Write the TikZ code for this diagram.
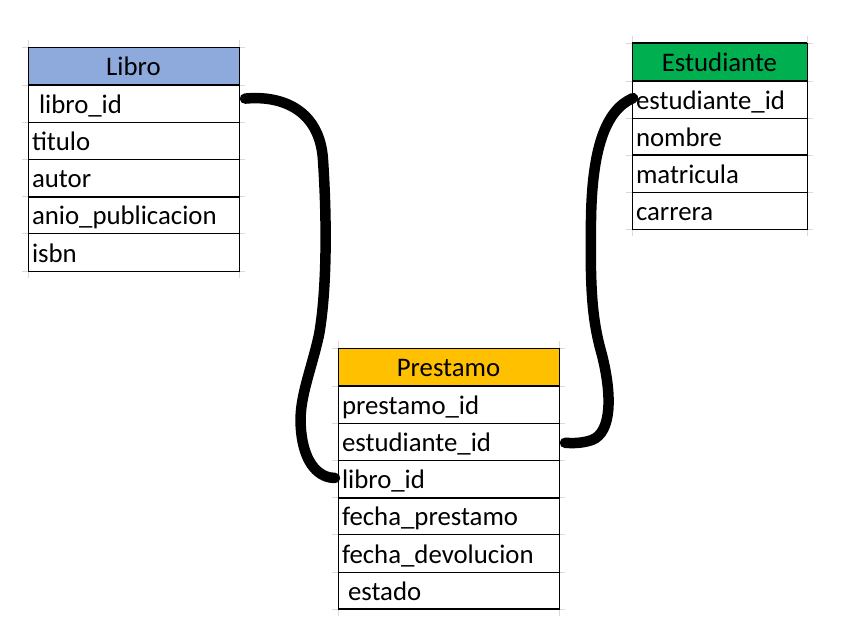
\documentclass[tikz,border=0pt]{standalone}
\usepackage{fontspec}
\setmainfont{Carlito}
\usetikzlibrary{calc}
\definecolor{hblue}{HTML}{8EA9DB}
\definecolor{hgreen}{HTML}{00B050}
\definecolor{horange}{HTML}{FFC000}
\begin{document}
\begin{tikzpicture}[x=1pt,y=-1pt,
  cell/.style={draw=black, line width=1pt, anchor=north west, outer sep=0pt,
    minimum height=37.2pt, inner xsep=4pt, inner ysep=0pt,
    text height=22pt, text depth=2.5pt, align=left,
    font=\fontsize{26.8}{30}\selectfont},
  head/.style={cell, align=center, minimum height=38pt},
  lw/.style={text width=203pt},
  ew/.style={text width=167pt},
  pw/.style={text width=213pt},
  thick line/.style={line width=2pt, black},
  conn/.style={line width=10.5pt, line cap=round, black},
  gridstub/.style={draw=gray!30, line width=1pt}]
\useasboundingbox (0,0) rectangle (841,635);
\fill[white] (0,0) rectangle (841,635);

% faint spreadsheet grid stubs
\foreach \yy in {47,85,122.2,159.4,196.6,233.8,271}
  {\draw[gridstub] (22,\yy) -- (245,\yy);}
\draw[gridstub] (28,40) -- (28,278);
\draw[gridstub] (239,40) -- (239,278);
\foreach \yy in {43,81,118.2,155.4,192.6,229.8}
  {\draw[gridstub] (626,\yy) -- (813,\yy);}
\draw[gridstub] (632,36) -- (632,236);
\draw[gridstub] (807,36) -- (807,236);
\foreach \yy in {348,386,423.2,460.4,497.6,534.8,572,609.2}
  {\draw[gridstub] (332,\yy) -- (565,\yy);}
\draw[gridstub] (338,341) -- (338,616);
\draw[gridstub] (559,341) -- (559,616);

% Libro
\node[head, lw, fill=hblue] (lib0) at (28,47) {Libro};
\node[cell, lw] (lib1) at (lib0.south west) {\hspace*{7pt}libro\_id};
\node[cell, lw] (lib2) at (lib1.south west) {titulo};
\node[cell, lw] (lib3) at (lib2.south west) {autor};
\node[cell, lw] (lib4) at (lib3.south west) {anio\_publicacion};
\node[cell, lw] (lib5) at (lib4.south west) {isbn};
\draw[thick line] (lib0.south west) -- (lib0.south east);
\draw[thick line] (lib3.south west) -- (lib3.south east);

% Estudiante
\node[head, ew, fill=hgreen] (est0) at (632,43) {Estudiante};
\node[cell, ew] (est1) at (est0.south west) {estudiante\_id};
\node[cell, ew] (est2) at (est1.south west) {nombre};
\node[cell, ew] (est3) at (est2.south west) {matricula};
\node[cell, ew] (est4) at (est3.south west) {carrera};
\draw[thick line] (est0.north west) -- (est0.north east);
\draw[thick line] (est0.south west) -- (est0.south east);
\draw[thick line] (est2.south west) -- (est2.south east);

% Prestamo
\node[head, pw, fill=horange] (pre0) at (338,348) {Prestamo};
\node[cell, pw] (pre1) at (pre0.south west) {prestamo\_id};
\node[cell, pw] (pre2) at (pre1.south west) {estudiante\_id};
\node[cell, pw] (pre3) at (pre2.south west) {libro\_id};
\node[cell, pw] (pre4) at (pre3.south west) {fecha\_prestamo};
\node[cell, pw] (pre5) at (pre4.south west) {fecha\_devolucion};
\node[cell, pw] (pre6) at (pre5.south west) {\hspace*{6pt}estado};
\draw[thick line] (pre0.south west) -- (pre0.south east);
\draw[thick line] (pre3.south west) -- (pre3.south east);
\draw[thick line] (pre6.south west) -- (pre6.south east);

% connector end points
\coordinate (c1s) at ($(lib1.east)+(6,-5)$);
\coordinate (c1e) at ($(pre3.west)+(-3,-1)$);
\coordinate (c2s) at ($(est1.west)+(1,-1.5)$);
\coordinate (c2e) at ($(pre2.east)+(6,1)$);

% hand-drawn connectors
\draw[conn] (c1s) .. controls (282,95) and (320,110) .. (323,160)
  .. controls (327,220) and (327,290) .. (319,335)
  .. controls (310,375) and (298,400) .. (301,430)
  .. controls (304,465) and (320,478) .. (c1e);
\draw[conn] (c2s) .. controls (605,110) and (592,150) .. (591,220)
  .. controls (590,290) and (592,320) .. (602,355)
  .. controls (612,395) and (612,432) .. (592,440)
  .. controls (580,444) and (570,443) .. (c2e);
\end{tikzpicture}
\end{document}
